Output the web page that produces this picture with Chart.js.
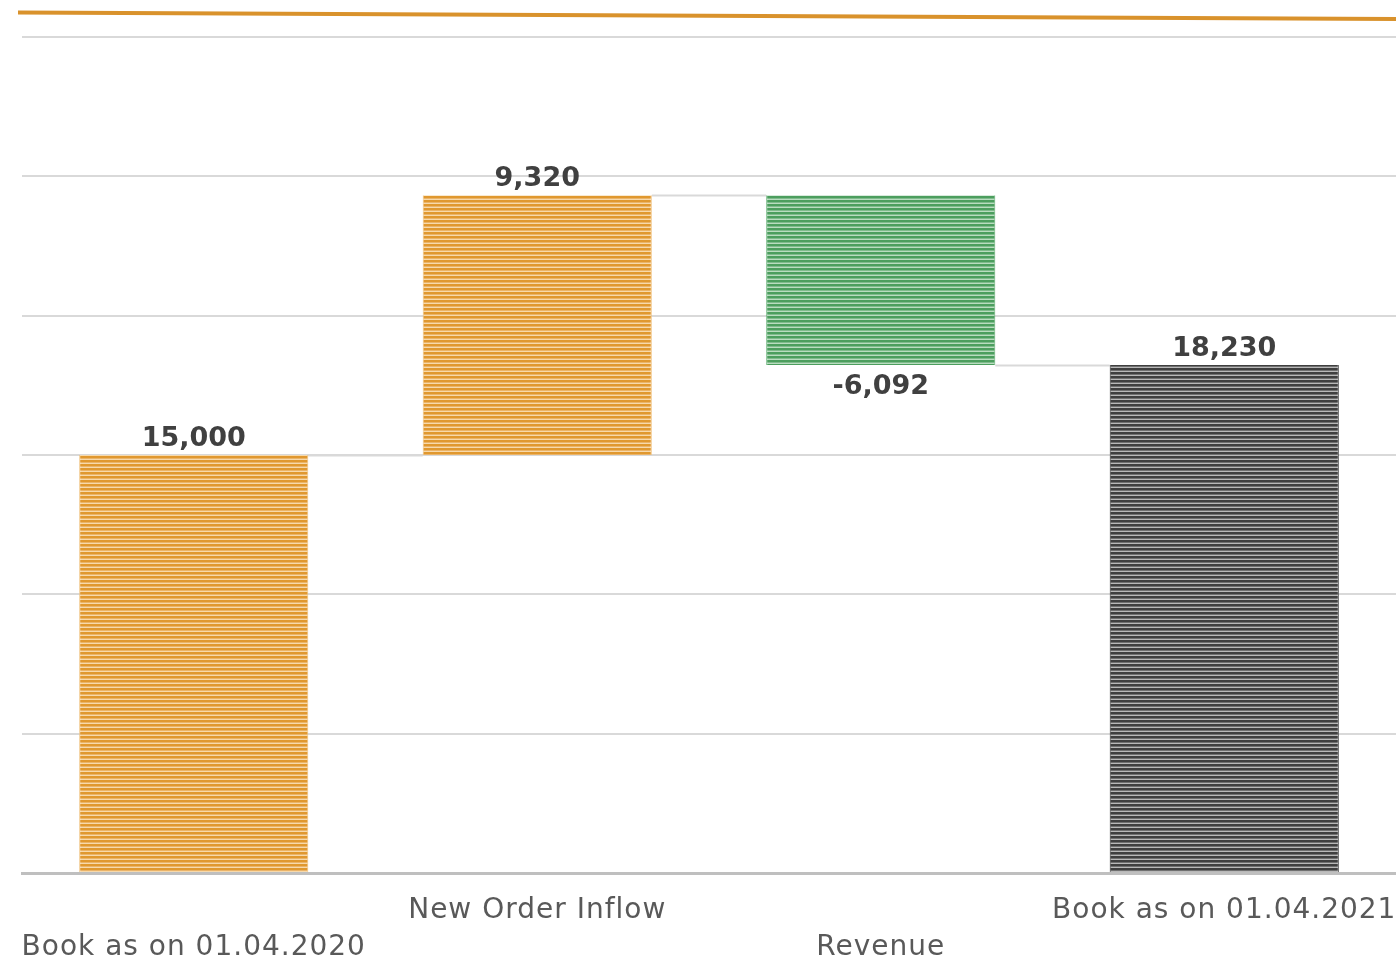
<!DOCTYPE html>
<html><head><meta charset="utf-8">
<script src="https://cdn.jsdelivr.net/npm/chart.js@4/dist/chart.umd.min.js"></script>
<style>html,body{margin:0;padding:0;background:#fff;overflow:hidden}#wrap{width:1396px;height:961px;position:relative}</style>
</head><body><div id="wrap"><canvas id="c"></canvas></div>
<script>
const categories = ['Book as on 01.04.2020', 'New Order Inflow', 'Revenue', 'Book as on 01.04.2021'];
const changes = [15000, 9320, -6092, 18230];
const kinds = ['total', 'delta', 'delta', 'total'];
const yMin = 0, yMax = 30000, yStep = 5000;

function makePattern(dark, mid, light) {
  const p = document.createElement('canvas');
  p.width = 4; p.height = 4;
  const g = p.getContext('2d');
  g.fillStyle = dark; g.fillRect(0, 0, 4, 2);
  g.fillStyle = mid; g.fillRect(0, 2, 4, 1);
  g.fillStyle = light; g.fillRect(0, 3, 4, 1);
  return g.createPattern(p, 'repeat');
}
const ctxMain = document.getElementById('c').getContext('2d');
const orangeP = makePattern('#e0982f', '#ebb468', '#f7d9ab');
const greenP = makePattern('#4c9e5e', '#7fbb8c', '#b9dcc0');
const grayP = makePattern('#3f3f3f', '#707070', '#b8b8b8');

let running = 0;
const ranges = changes.map((v, i) => {
  if (kinds[i] === 'total') { running = v; return [0, v]; }
  const r = [running, running + v]; running += v; return r;
});
const fills = changes.map((v, i) => kinds[i] === 'total' ? (i === 0 ? orangeP : grayP) : (v >= 0 ? orangeP : greenP));
const borders = changes.map((v, i) => kinds[i] === 'total' ? (i === 0 ? '#f0c07a' : '#2e2e2e') : (v >= 0 ? '#f0c07a' : '#5fae70'));

const spacing = {
  id: 'spacing',
  beforeDraw(chart) { chart.ctx.letterSpacing = '1px'; },
  afterDraw(chart) { chart.ctx.letterSpacing = '0px'; }
};
const topLine = {
  id: 'topLine',
  afterDraw(chart) {
    const c = chart.ctx; c.save();
    c.strokeStyle = '#d9922c'; c.lineWidth = 4;
    c.beginPath(); c.moveTo(18, 12.5); c.lineTo(1396, 19); c.stroke();
    c.restore();
  }
};
const connectors = {
  id: 'connectors',
  beforeDatasetsDraw(chart) {
    const meta = chart.getDatasetMeta(0), y = chart.scales.y, c = chart.ctx;
    c.save(); c.strokeStyle = '#d9d9d9'; c.lineWidth = 2;
    for (let i = 0; i < ranges.length - 1; i++) {
      const lvl = ranges[i][1];
      const a = meta.data[i], b = meta.data[i + 1];
      const py = Math.round(y.getPixelForValue(lvl)) + 0.5;
      c.beginPath(); c.moveTo(a.x + a.width / 2, py); c.lineTo(b.x - b.width / 2, py); c.stroke();
    }
    c.restore();
  }
};
const valueLabels = {
  id: 'valueLabels',
  afterDatasetsDraw(chart) {
    const meta = chart.getDatasetMeta(0), c = chart.ctx;
    c.save(); c.letterSpacing = '0px'; c.fillStyle = '#404040'; c.font = 'bold 27px "DejaVu Sans"'; c.textAlign = 'center';
    meta.data.forEach((el, i) => {
      const top = Math.min(el.y, el.base), bot = Math.max(el.y, el.base);
      const txt = changes[i].toLocaleString('en-US');
      if (changes[i] >= 0) { c.textBaseline = 'alphabetic'; c.fillText(txt, el.x, top - 9); }
      else { c.textBaseline = 'top'; c.fillText(txt, el.x, bot + 8); }
    });
    c.restore();
  }
};

new Chart(ctxMain, {
  type: 'bar',
  data: { labels: categories, datasets: [{ data: ranges, backgroundColor: fills, borderColor: borders, borderWidth: {left:1,right:1,top:0,bottom:0}, borderSkipped: false, barPercentage: 0.667, categoryPercentage: 1 }] },
  options: {
    responsive: true, maintainAspectRatio: false, animation: false,
    layout: { padding: { top: 37, left: 22, right: 0, bottom: 0 } },
    plugins: { legend: { display: false }, tooltip: { enabled: false } },
    scales: {
      x: {
        grid: { display: false, drawTicks: false },
        border: { display: true, color: '#bfbfbf', width: 3 },
        ticks: {
          color: '#595959', font: { family: 'DejaVu Sans', size: 28, lineHeight: 1.32 }, padding: 19, maxRotation: 0, autoSkip: false,
          callback: (v, i) => i % 2 === 0 ? ['', categories[i]] : [categories[i], '']
        },
        afterFit(s) { s.height = 88; s.paddingLeft = 0; s.paddingRight = 0; }
      },
      y: {
        min: yMin, max: yMax,
        ticks: { display: false, stepSize: yStep },
        grid: { color: '#d9d9d9', lineWidth: 2, drawTicks: false },
        border: { display: false },
        afterFit(s) { s.width = 0; s.paddingTop = 0; s.paddingBottom = 0; }
      }
    }
  },
  plugins: [spacing, connectors, valueLabels, topLine]
});
</script></body></html>
